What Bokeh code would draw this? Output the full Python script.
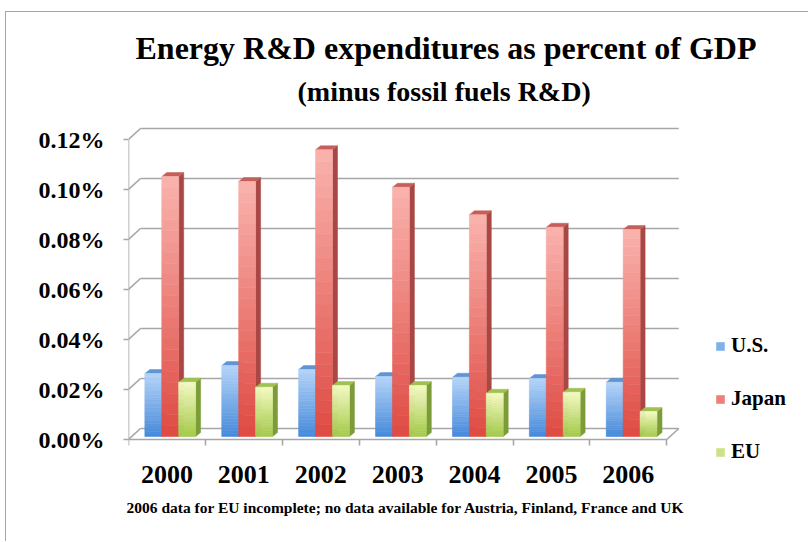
from bokeh.plotting import figure
from bokeh.models import (ColumnDataSource, FixedTicker, PrintfTickFormatter,
                          CustomJSTickFormatter, Title, Legend, LegendItem, Range1d)
from bokeh.embed import file_html
from bokeh.resources import INLINE

# ---------------- data ----------------
years = ["2000", "2001", "2002", "2003", "2004", "2005", "2006"]
us = [0.0252, 0.0284, 0.0268, 0.0240, 0.0237, 0.0232, 0.0217]
japan = [0.1040, 0.1020, 0.1147, 0.0997, 0.0887, 0.0837, 0.0828]
eu = [0.0217, 0.0197, 0.0204, 0.0204, 0.0173, 0.0177, 0.0100]
series_names = ["U.S.", "Japan", "EU"]
y_ticks = [0.00, 0.02, 0.04, 0.06, 0.08, 0.10, 0.12]

title_text = "Energy R&D expenditures as percent of GDP"
subtitle_text = "(minus fossil fuels R&D)"
note_text = "2006 data for EU incomplete; no data available for Austria, Finland, France and UK"

# ---------------- style / geometry ----------------
FONT = "Liberation Serif"
PX_X = 76.9          # pixels per category
PX_Y = 2500.0        # pixels per percent unit
WALL_DX = 12 / PX_X
WALL_DY = 11 / PX_Y
BAR_OFF_X = 3.3 / PX_X
BAR_OFF_Y = 3 / PX_Y
BAR_DX = 5 / PX_X
BAR_DY = 4 / PX_Y
BAR_W = 0.22
GROUP_PAD = 0.17
N_BANDS = 24
GRID = "#a6a6a6"

colors = {
    "U.S.":  dict(top="#b4d4f8", bottom="#4689da", side="#3d70b4", cap="#6194d4"),
    "Japan": dict(top="#fab3ae", bottom="#de4a42", side="#a84743", cap="#c65f5a"),
    "EU":    dict(top="#f3f9c2", bottom="#a2c948", side="#7b9c38", cap="#9fc152"),
}

CANVAS_W, CANVAS_H = 803, 530
FRAME_L, FRAME_T, FRAME_B = 122, 103, 478
ZERO_Y = 427          # canvas pixel row of the value 0 on the front plane
frame_w = CANVAS_W - FRAME_L

p = figure(width=CANVAS_W, height=CANVAS_H, output_backend="svg", toolbar_location=None,
           title_location=None,
           x_range=Range1d(0, frame_w / PX_X),
           y_range=Range1d(-(FRAME_B - ZERO_Y) / PX_Y, (ZERO_Y - FRAME_T) / PX_Y),
           min_border_left=FRAME_L, min_border_right=0, min_border_top=FRAME_T,
           min_border_bottom=CANVAS_H - FRAME_B)
p.styles = {"margin-left": "5px", "margin-top": "11px",
            "border-left": "1px solid #a6a6a6", "border-top": "1px solid #a6a6a6"}
p.outline_line_color = None
p.grid.visible = False
p.background_fill_color = "white"
p.border_fill_color = "white"

n_cat = len(years)

# walls / gridlines
gx0, gy0, gx1, gy1 = [], [], [], []
for t in y_ticks:
    gx0 += [WALL_DX, 0]; gy0 += [t + WALL_DY, t]
    gx1 += [n_cat + WALL_DX, WALL_DX]; gy1 += [t + WALL_DY, t + WALL_DY]
# floor front edge, right floor edge, front vertical edge
gx0 += [0, n_cat, 0]; gy0 += [0, 0, 0]
gx1 += [n_cat, n_cat + WALL_DX, 0]; gy1 += [0, WALL_DY, y_ticks[-1]]
p.segment(gx0, gy0, gx1, gy1, line_color=GRID, line_width=1.6)


def hex_to_rgb(h):
    h = h.lstrip("#")
    return tuple(int(h[i:i + 2], 16) for i in (0, 2, 4))


def mix(c1, c2, t):
    a, b = hex_to_rgb(c1), hex_to_rgb(c2)
    return "#%02x%02x%02x" % tuple(int(round(a[i] + (b[i] - a[i]) * t)) for i in range(3))


legend_items = []
for k, (name, vals) in enumerate(zip(series_names, [us, japan, eu])):
    c = colors[name]
    fl, fr, fb, ft, fc = [], [], [], [], []
    sxs, sys_, cxs, cys = [], [], [], []
    for i, v in enumerate(vals):
        xl = i + GROUP_PAD + k * BAR_W + BAR_OFF_X
        xr = xl + BAR_W
        y0 = BAR_OFF_Y
        y1 = y0 + v
        for j in range(N_BANDS):
            b0 = y0 + v * j / N_BANDS
            b1 = y0 + v * (j + 1) / N_BANDS
            fl.append(xl); fr.append(xr); fb.append(b0); ft.append(b1)
            fc.append(mix(c["bottom"], c["top"], (j + 0.5) / N_BANDS))
        sxs.append([xr, xr + BAR_DX, xr + BAR_DX, xr])
        sys_.append([y0, y0 + BAR_DY, y1 + BAR_DY, y1])
        cxs.append([xl, xl + BAR_DX, xr + BAR_DX, xr])
        cys.append([y1, y1 + BAR_DY, y1 + BAR_DY, y1])
    p.patches(sxs, sys_, fill_color=c["side"], line_color=c["side"], line_width=0.5)
    p.patches(cxs, cys, fill_color=c["cap"], line_color=c["cap"], line_width=0.5)
    src = ColumnDataSource(dict(left=fl, right=fr, bottom=fb, top=ft, color=fc))
    r = p.quad(left="left", right="right", bottom="bottom", top="top", source=src,
               fill_color="color", line_color="color", line_width=0.6)
    legend_items.append(LegendItem(label=name, renderers=[r], index=N_BANDS // 2))

# y axis
ya = p.yaxis[0]
ya.ticker = FixedTicker(ticks=y_ticks, minor_ticks=[])
ya.formatter = PrintfTickFormatter(format="%.2f%%")
ya.axis_line_color = None
ya.major_tick_out = 5
ya.major_tick_in = 0
ya.major_tick_line_color = GRID
ya.major_tick_line_width = 1.6
ya.major_label_standoff = 19
ya.major_label_text_font = FONT
ya.major_label_text_font_style = "bold"
ya.major_label_text_font_size = "24px"
ya.major_label_text_color = "black"

# x axis (placed on the value 0 of the front plane)
xa = p.xaxis[0]
xa.fixed_location = 0
xa.ticker = FixedTicker(ticks=[i + 0.5 for i in range(n_cat)], minor_ticks=list(range(n_cat + 1)))
xa.formatter = CustomJSTickFormatter(args=dict(labels=years), code="""
const i = Math.round(tick - 0.5);
return (i >= 0 && i < labels.length) ? labels[i] : "";
""")
xa.axis_line_color = None
xa.major_tick_line_color = None
xa.major_tick_out = 0
xa.major_tick_in = 0
xa.minor_tick_out = 6
xa.minor_tick_in = 0
xa.minor_tick_line_color = GRID
xa.minor_tick_line_width = 1.6
xa.major_label_standoff = 20
xa.major_label_text_font = FONT
xa.major_label_text_font_style = "bold"
xa.major_label_text_font_size = "26px"
xa.major_label_text_color = "black"

# titles
sub = Title(text=subtitle_text, align="left", offset=169, text_font=FONT,
            text_font_style="bold", text_font_size="28px", text_color="black", standoff=17)
ttl = Title(text=title_text, align="left", offset=7, text_font=FONT,
            text_font_style="bold", text_font_size="32px", text_color="black", standoff=0)
p.add_layout(sub, "above")
p.add_layout(ttl, "above")
note = Title(text=note_text, align="left", offset=-2, text_font=FONT,
             text_font_style="bold", text_font_size="15.5px", text_color="black", standoff=13)
p.add_layout(note, "below")

legend = Legend(items=legend_items, location=(587, 26), orientation="vertical",
                glyph_width=10, glyph_height=10, label_height=21, spacing=28,
                label_standoff=6, padding=0, margin=0, border_line_color=None,
                background_fill_alpha=0, label_text_font=FONT,
                label_text_font_style="bold", label_text_font_size="21px",
                label_text_color="black")
p.add_layout(legend)

open("out.html", "w").write(file_html(p, INLINE))
